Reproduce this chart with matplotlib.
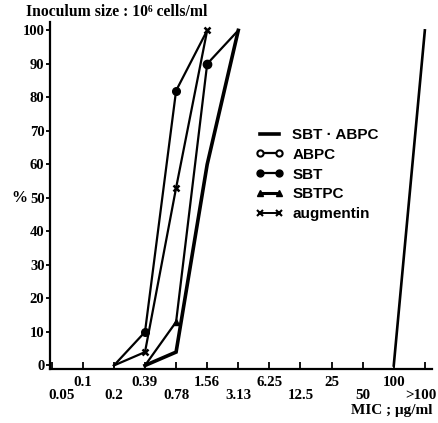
import matplotlib
matplotlib.use("Agg")
import matplotlib.pyplot as plt
from matplotlib.lines import Line2D

# ---- data ----
mic_labels = ['0.05', '0.1', '0.2', '0.39', '0.78', '1.56', '3.13',
              '6.25', '12.5', '25', '50', '100', '>100']
pct_ticks = [0, 10, 20, 30, 40, 50, 60, 70, 80, 90, 100]

sbt_abpc_mic = ['0.39', '0.78', '1.56', '3.13']
sbt_abpc_pct = [0, 4, 60, 100]

abpc_mic = ['100', '>100']
abpc_pct = [0, 100]

sbt_mic = ['0.2', '0.39', '0.78', '1.56']
sbt_pct = [0, 10, 82, 100]

sbtpc_mic = ['0.39', '0.78', '1.56', '3.13']
sbtpc_pct = [0, 13, 90, 100]

aug_mic = ['0.2', '0.39', '0.78', '1.56']
aug_pct = [0, 4, 53, 100]

series_names = ['SBT · ABPC', 'ABPC', 'SBT', 'SBTPC', 'augmentin']


def idx(mics):
    return [mic_labels.index(m) for m in mics]


SERIF = ['Liberation Serif', 'DejaVu Serif']
SANS = ['Liberation Sans', 'DejaVu Sans']

W, H = 439, 423
fig = plt.figure(figsize=(W / 100, H / 100), dpi=100)
L, R, B, T = 50, 432, 369, 22
ax = fig.add_axes([L / W, 1 - B / H, (R - L) / W, (B - T) / H])

k = 'black'
ax.plot(idx(sbt_abpc_mic), sbt_abpc_pct, color=k, lw=2.6, solid_joinstyle='miter')
ax.plot(idx(abpc_mic), abpc_pct, color=k, lw=1.9)
ax.plot(idx(sbt_mic), sbt_pct, color=k, lw=1.6, marker='o', ms=5.5,
        markevery=[1, 2])
ax.plot(idx(sbtpc_mic), sbtpc_pct, color=k, lw=1.6, marker='o', ms=6,
        markevery=[2])
ax.plot(idx(sbtpc_mic), sbtpc_pct, color=k, lw=0, marker='^', ms=5,
        markevery=[1])
ax.plot(idx(aug_mic), aug_pct, color=k, lw=1.6, marker='x', ms=4.5, mew=1.8,
        markevery=[1, 2, 3])

ax.set_xlim(-0.055, 12.23)
ax.set_ylim(-1.05, 102.5)

for s in ['top', 'right']:
    ax.spines[s].set_visible(False)
for s in ['left', 'bottom']:
    ax.spines[s].set_linewidth(1.6)

FS_X = 10.8
last = len(mic_labels) - 1
ax.set_xticks(range(len(mic_labels)))
xl = []
for i, m in enumerate(mic_labels):
    if i == 0 or i == last:
        xl.append('')
    elif i % 2 == 1:
        xl.append(m)
    else:
        xl.append('\n' + m)
ax.set_xticklabels(xl, fontfamily=SERIF, fontweight='bold', fontsize=FS_X,
                   linespacing=1.0)
ax.tick_params(axis='x', direction='in', length=5, width=1.3, pad=5)

ax.set_yticks(pct_ticks)
ax.set_yticklabels([str(v) for v in pct_ticks], fontfamily=SERIF,
                   fontweight='bold', fontsize=10.5)
ax.tick_params(axis='y', direction='out', length=3, width=1.3, pad=1)

# end labels of the second row, nudged inside the figure like the reference
for i, dx in [(0, 6.8), (last, -3.0)]:
    ax.annotate('\n' + mic_labels[i], xy=(i, 0),
                xycoords=('data', 'axes fraction'),
                xytext=(dx, -5), textcoords='offset points', ha='center',
                va='top', fontfamily=SERIF, fontweight='bold', fontsize=FS_X,
                linespacing=1.0)

fig.text(26 / W, 1 - 12 / H, 'Inoculum size : 10⁶ cells/ml', ha='left',
         va='center', fontfamily=SERIF, fontweight='bold', fontsize=11.3)
fig.text(433 / W, 1 - 410 / H, 'MIC ; μg/ml', ha='right', va='center',
         fontfamily=SERIF, fontweight='bold', fontsize=11)
ax.annotate('%', xy=(0, 50), xycoords=('axes fraction', 'data'),
            xytext=(-31 * 0.72, 0), textcoords='offset points', ha='center',
            va='center', fontfamily=SERIF, fontweight='bold', fontsize=11.5)

handles = [
    Line2D([], [], color=k, lw=2.6),
    Line2D([], [], color=k, lw=1.6, marker='o', ms=4.5, mfc='white', mew=1.5),
    Line2D([], [], color=k, lw=1.6, marker='o', ms=5),
    Line2D([], [], color=k, lw=2.2, marker='^', ms=5),
    Line2D([], [], color=k, lw=1.4, marker='x', ms=4, mew=1.5),
]
leg = fig.legend(handles, series_names, loc='upper left',
                 bbox_to_anchor=(255 / W, 1 - 128 / H), frameon=False,
                 borderpad=0, borderaxespad=0, handlelength=1.9,
                 handletextpad=0.55, labelspacing=0.38, numpoints=2,
                 prop={'family': SANS, 'weight': 'bold', 'size': 11})

fig.savefig('out.png', dpi=100)
